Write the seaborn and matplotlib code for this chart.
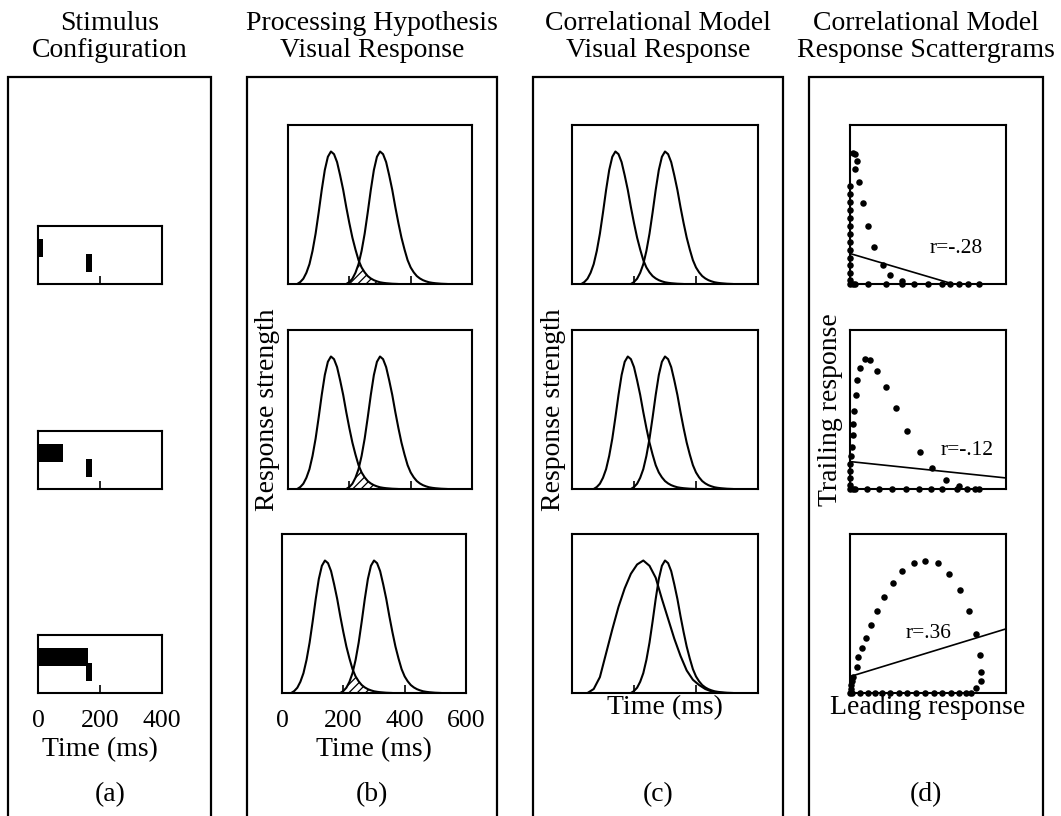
import numpy as np
import pandas as pd
import matplotlib
matplotlib.use("Agg")
import matplotlib.pyplot as plt
from matplotlib.patches import Rectangle
import seaborn as sns

# ---------------- data ----------------
panel_titles = ["Stimulus\nConfiguration",
                "Processing Hypothesis\nVisual Response",
                "Correlational Model\nVisual Response",
                "Correlational Model\nResponse Scattergrams"]
panel_letters = ["(a)", "(b)", "(c)", "(d)"]

# (a) stimulus configuration, ms
stim_ticks = [0, 200, 400]
leading_duration = [15, 80, 160]
trailing_onset = [155, 155, 155]
trailing_duration = [18, 18, 18]

# (b)/(c) visual response shape, time relative to peak (ms) and strength
shape_rel_time = [-110, -100, -90, -80, -70, -60, -50, -40, -30, -20, -10, 0,
                  10, 20, 30, 40, 50, 60, 70, 80, 90, 100, 110, 120, 130, 140,
                  150, 160, 170, 180, 190, 200, 210, 220]
shape_value = [0.0, 0.015, 0.04, 0.085, 0.15, 0.25, 0.38, 0.54, 0.71, 0.86, 0.96, 1.0,
               0.98, 0.92, 0.82, 0.71, 0.58, 0.46, 0.35, 0.26, 0.18, 0.125, 0.088, 0.06,
               0.042, 0.029, 0.02, 0.013, 0.009, 0.006, 0.004, 0.002, 0.001, 0.0]
hyp_leading_peak = [140, 140, 140]
hyp_trailing_peak = [300, 300, 300]
corr_leading_peak = [140, 180, 230]
corr_trailing_peak = [300, 300, 300]
# broad leading response in the last correlational-model row
broad_time = [50, 70, 90, 110, 130, 150, 170, 190, 210, 230, 250, 270, 290, 310,
              330, 350, 370, 390, 410, 430, 450, 470, 490]
broad_value = [0.0, 0.03, 0.12, 0.3, 0.48, 0.65, 0.79, 0.9, 0.97, 1.0, 0.96, 0.87,
               0.71, 0.56, 0.41, 0.28, 0.17, 0.1, 0.06, 0.03, 0.012, 0.003, 0.0]
time_ticks = [0, 200, 400, 600]

# (d) scattergrams: leading response (x) vs trailing response (y)
scatter1_lead = [0, 0, 0, 0, 0, 0, 0, 0, 0, 0, 0, 0, 0, 0,
                 0.02, 0.035, 0.05, 0.04, 0.07, 0.10, 0.135, 0.185, 0.25, 0.31, 0.40,
                 0.02, 0.04, 0.14, 0.275, 0.40, 0.49, 0.60, 0.71, 0.77, 0.835, 0.91, 0.99]
scatter1_trail = [0.0, 0.03, 0.08, 0.14, 0.2, 0.26, 0.32, 0.38, 0.44, 0.5, 0.56, 0.62, 0.68, 0.74,
                  0.99, 0.98, 0.93, 0.87, 0.77, 0.61, 0.44, 0.28, 0.145, 0.07, 0.025,
                  0, 0, 0, 0, 0, 0, 0, 0, 0, 0, 0, 0]
scatter2_lead = [0, 0, 0, 0, 0, 0.01, 0.015, 0.02, 0.02, 0.03,
                 0.046, 0.056, 0.08, 0.116, 0.15, 0.21, 0.275, 0.35, 0.437, 0.535, 0.63, 0.74, 0.835,
                 0.02, 0.04, 0.13, 0.22, 0.32, 0.43, 0.53, 0.62, 0.71, 0.82, 0.90, 0.96, 0.99]
scatter2_trail = [0.0, 0.03, 0.08, 0.135, 0.19, 0.25, 0.32, 0.41, 0.49, 0.59,
                  0.71, 0.82, 0.91, 0.98, 0.975, 0.89, 0.77, 0.61, 0.44, 0.28, 0.16, 0.07, 0.026,
                  0, 0, 0, 0, 0, 0, 0, 0, 0, 0, 0, 0, 0]
scatter3_lead = [0.0, 0.005, 0.01, 0.015,
                 0.026, 0.052, 0.065, 0.09, 0.124, 0.16, 0.206, 0.263, 0.33, 0.40, 0.49, 0.58,
                 0.676, 0.76, 0.846, 0.916, 0.968, 1.0, 1.01, 1.006, 0.968,
                 0.013, 0.077, 0.142, 0.194, 0.245, 0.31, 0.374, 0.439, 0.511, 0.58, 0.645,
                 0.71, 0.774, 0.839, 0.89, 0.929]
scatter3_trail = [0.0, 0.03, 0.06, 0.09,
                  0.124, 0.2, 0.27, 0.336, 0.418, 0.51, 0.622, 0.727, 0.83, 0.92, 0.983, 1.0,
                  0.983, 0.90, 0.777, 0.622, 0.448, 0.286, 0.162, 0.087, 0.037,
                  0, 0, 0, 0, 0, 0, 0, 0, 0, 0, 0, 0, 0, 0, 0, 0]
fit_intercept = [0.23, 0.207, 0.124]
fit_slope = [-0.29, -0.103, 0.30]
r_labels = ["r=-.28", "r=-.12", "r=.36"]

# ---------------- style / layout ----------------
sns.set_theme(style="white")
plt.rcParams['font.family'] = ['Liberation Serif', 'DejaVu Serif']
plt.rcParams['hatch.linewidth'] = 0.9
plt.rcParams['hatch.color'] = 'black'

W, H = 1061, 816
fig = plt.figure(figsize=(W / 100, H / 100), dpi=100)
FS_TITLE = 20
FS = 20
FS_TICK = 18.5

def add_px_axes(x0, y0, x1, y1):
    ax = fig.add_axes([x0 / W, 1 - y1 / H, (x1 - x0) / W, (y1 - y0) / H])
    ax.set_facecolor('none')
    for s in ax.spines.values():
        s.set_color('black')
        s.set_linewidth(1.5)
        s.set_visible(True)
    ax.tick_params(axis='x', direction='in', length=6, width=1.2, color='black',
                   bottom=True, top=False, labelsize=FS_TICK, pad=12, labelcolor='black')
    ax.tick_params(axis='y', left=False, labelleft=False)
    ax.set_xlabel('')
    ax.set_ylabel('')
    return ax

def ftext(x, y, s, size=FS, **kw):
    fig.text(x / W, 1 - y / H, s, ha='center', va='center', fontsize=size,
             color='black', **kw)

panel_x = [(8, 211), (247, 497), (533, 783), (809, 1043)]
box_top = 77
row_top = [125, 330, 534]
row_bottom = [284, 489, 693]

for (x0, x1), title in zip(panel_x, panel_titles):
    fig.add_artist(Rectangle((x0 / W, -0.05), (x1 - x0) / W, 1 - box_top / H + 0.05,
                             transform=fig.transFigure, fill=False, ec='black', lw=1.6))
    ftext((x0 + x1) / 2, 37, title, size=FS_TITLE, linespacing=1.1)

# ---------------- (a) stimulus configuration ----------------
for i in range(3):
    ax = add_px_axes(38, row_bottom[i] - 58, 162, row_bottom[i])
    ax.barh([0.47], [leading_duration[i]], left=0, height=0.31, align='edge',
            color='black', lw=0)
    ax.barh([0.21], [trailing_duration[i]], left=trailing_onset[i], height=0.31,
            align='edge', color='black', lw=0)
    ax.set_xlim(0, 400)
    ax.set_ylim(0, 1)
    ax.set_xticks(stim_ticks)
    ax.set_xticklabels([str(t) for t in stim_ticks] if i == 2 else [])
    ax.set_yticks([])

ftext(100, 750, "Time (ms)")

# ---------------- response curves ----------------
rel = np.array(shape_rel_time)
shape = pd.Series(shape_value, index=rel)

def curve(peak):
    return pd.Series(shape.values, index=rel + peak)

b_x = [(288, 472), (288, 472), (282, 466)]
for i in range(3):
    ax = add_px_axes(b_x[i][0], row_top[i], b_x[i][1], row_bottom[i])
    lead = curve(hyp_leading_peak[i])
    trail = curve(hyp_trailing_peak[i])
    sns.lineplot(x=lead.index.values, y=lead.values, ax=ax, color='black', lw=1.5,
                 estimator=None, sort=False)
    sns.lineplot(x=trail.index.values, y=trail.values, ax=ax, color='black', lw=1.5,
                 estimator=None, sort=False)
    both = pd.concat([lead, trail], axis=1, join='inner').min(axis=1)
    ax.fill_between(both.index.values, 0, both.values, facecolor='none',
                    edgecolor='black', hatch='////', lw=0)
    ax.set_xlim(0, 600)
    ax.set_ylim(0, 1.2)
    ax.set_xticks(time_ticks)
    ax.set_xticklabels([str(t) for t in time_ticks] if i == 2 else [])
    ax.set_yticks([])
    ax.set_xlabel('')
    ax.set_ylabel('')

ftext(268, 410, "Response strength", rotation=90)
ftext(374, 750, "Time (ms)")

for i in range(3):
    ax = add_px_axes(572, row_top[i], 758, row_bottom[i])
    if i == 2:
        lx, ly = np.array(broad_time), np.array(broad_value)
    else:
        lead = curve(corr_leading_peak[i])
        lx, ly = lead.index.values, lead.values
    trail = curve(corr_trailing_peak[i])
    sns.lineplot(x=lx, y=ly, ax=ax, color='black', lw=1.5, estimator=None, sort=False)
    sns.lineplot(x=trail.index.values, y=trail.values, ax=ax, color='black', lw=1.5,
                 estimator=None, sort=False)
    ax.set_xlim(0, 600)
    ax.set_ylim(0, 1.2)
    ax.set_xticks(time_ticks)
    ax.set_xticklabels([])
    ax.set_yticks([])
    ax.set_xlabel('')
    ax.set_ylabel('')

ftext(553, 410, "Response strength", rotation=90)
ftext(665, 708, "Time (ms)")

# ---------------- (d) scattergrams ----------------
scatters = [(scatter1_lead, scatter1_trail), (scatter2_lead, scatter2_trail),
            (scatter3_lead, scatter3_trail)]
r_pos = [(0.82, 0.265), (0.90, 0.29), (0.607, 0.448)]
for i in range(3):
    ax = add_px_axes(850, row_top[i], 1006, row_bottom[i])
    sx, sy = scatters[i]
    sns.scatterplot(x=sx, y=sy, ax=ax, color='black', s=22, linewidth=0,
                    clip_on=False, legend=False)
    fx = np.array([0.0, 1.2])
    ax.plot(fx, fit_intercept[i] + fit_slope[i] * fx, color='black', lw=1.2)
    ax.text(r_pos[i][0], r_pos[i][1], r_labels[i], ha='center', va='center',
            fontsize=15.5, color='black')
    ax.set_xlim(0, 1.2)
    ax.set_ylim(0, 1.2)
    ax.set_xticks([])
    ax.set_yticks([])
    ax.set_xlabel('')
    ax.set_ylabel('')

ftext(830, 410, "Trailing response", rotation=90)
ftext(928, 708, "Leading response")

letter_x = [110, 372, 658, 926]
for lx_, letter in zip(letter_x, panel_letters):
    ftext(lx_, 795, letter)

fig.savefig("out.png", dpi=100)
